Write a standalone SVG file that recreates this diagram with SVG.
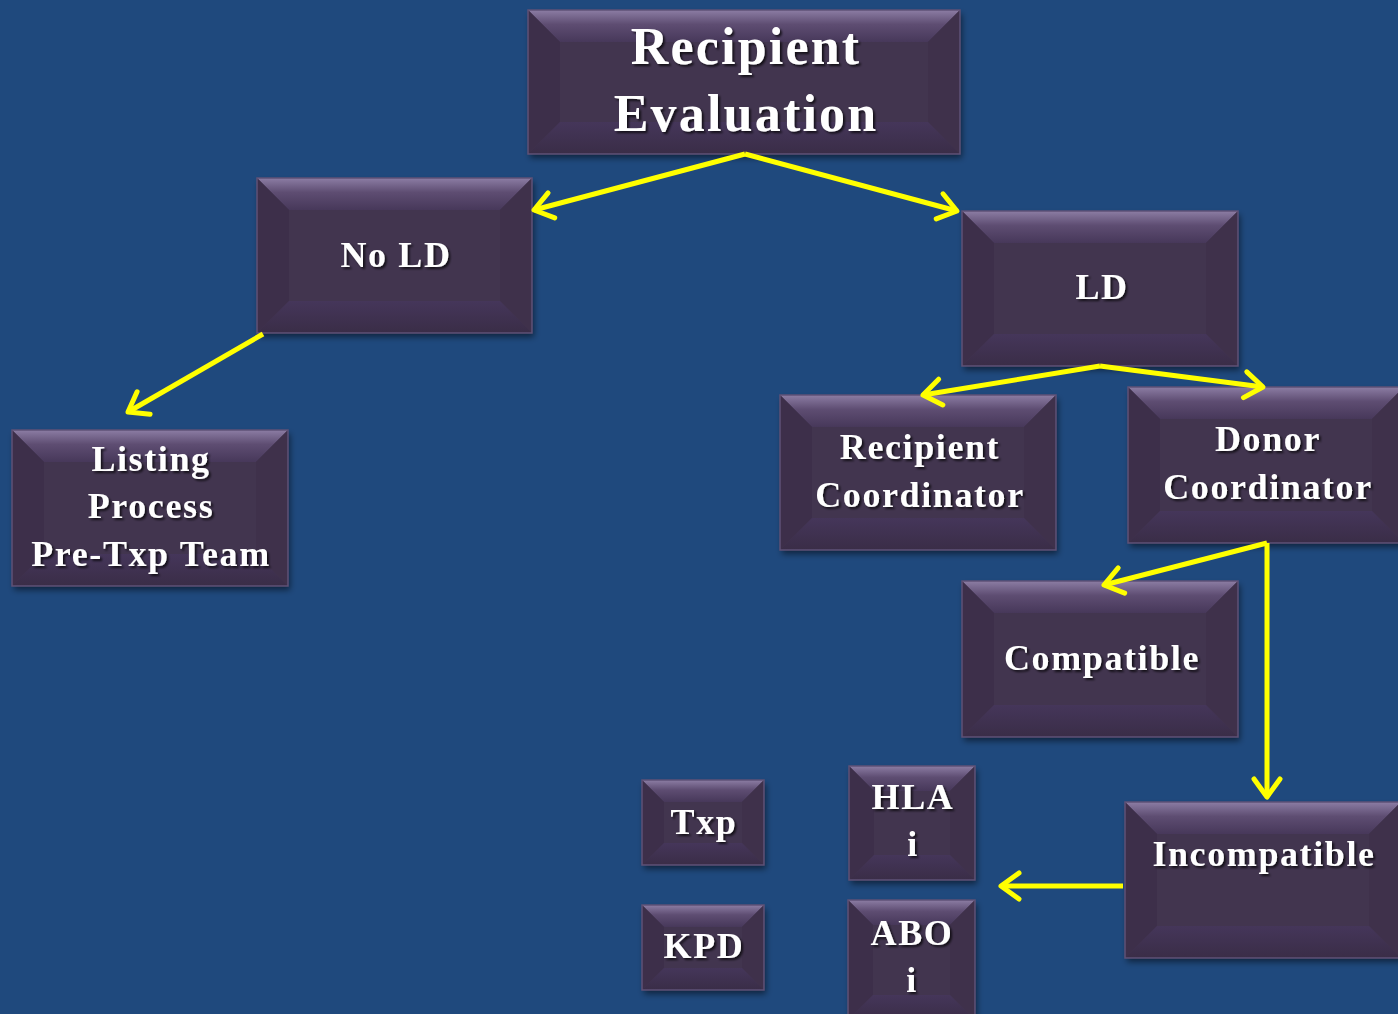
<svg xmlns="http://www.w3.org/2000/svg" width="1398" height="1014" viewBox="0 0 1398 1014">
<defs>
<linearGradient id="gt" x1="0" y1="0" x2="0" y2="1">
<stop offset="0" stop-color="#8C7DA4"/>
<stop offset="0.45" stop-color="#5E4D72"/>
<stop offset="1" stop-color="#47385A"/>
</linearGradient>
<linearGradient id="gb" x1="0" y1="0" x2="0" y2="1">
<stop offset="0" stop-color="#45365A"/>
<stop offset="1" stop-color="#3A2D47"/>
</linearGradient>
<filter id="sh" x="-10%" y="-10%" width="125%" height="130%">
<feDropShadow dx="2" dy="4" stdDeviation="3" flood-color="#000" flood-opacity="0.5"/>
</filter>
<filter id="ts" x="-10%" y="-20%" width="130%" height="150%">
<feDropShadow dx="2" dy="2" stdDeviation="1.2" flood-color="#000" flood-opacity="0.7"/>
</filter>
<marker id="ah" viewBox="-24 -16 28 32" refX="0" refY="0" markerWidth="28" markerHeight="32" markerUnits="userSpaceOnUse" orient="auto" overflow="visible">
<path d="M -18 -13 L 0 0 L -18 13" fill="none" stroke="#FFFF00" stroke-width="5" stroke-linecap="round" stroke-linejoin="round"/>
</marker>
</defs>
<style>
.face{fill:#43344F}
.bt{fill:url(#gt)}
.bl{fill:#3D2F4A}
.br{fill:#3F314B}
.bb{fill:url(#gb)}
.edge{fill:none;stroke:#5F5277;stroke-width:1.5}
.lbl{font-family:"Liberation Serif","Times New Roman",serif;font-weight:bold;fill:#FFFFFF;text-anchor:middle;filter:url(#ts)}
.f36{font-size:36px;letter-spacing:1.6px}
.f52{font-size:52px;letter-spacing:2.2px}
.conn{fill:none;stroke:#FFFF00;stroke-width:5;marker-end:url(#ah)}
</style>
<rect width="1398" height="1014" fill="#1F497D"/>

<g id="recipient-evaluation">
<g filter="url(#sh)"><rect class="face" x="528" y="10" width="432" height="144"/></g>
<polygon class="bt" points="528,10 960,10 928,42 560,42"/>
<polygon class="bl" points="528,10 560,42 560,122 528,154"/>
<polygon class="br" points="960,10 960,154 928,122 928,42"/>
<polygon class="bb" points="528,154 560,122 928,122 960,154"/>
<rect class="edge" x="528" y="10" width="432" height="144"/>
<text class="lbl f52" x="746" y="64">Recipient</text>
<text class="lbl f52" x="746" y="131">Evaluation</text>
</g>

<g id="no-ld">
<g filter="url(#sh)"><rect class="face" x="257" y="178" width="275" height="155"/></g>
<polygon class="bt" points="257,178 532,178 500,210 289,210"/>
<polygon class="bl" points="257,178 289,210 289,301 257,333"/>
<polygon class="br" points="532,178 532,333 500,301 500,210"/>
<polygon class="bb" points="257,333 289,301 500,301 532,333"/>
<rect class="edge" x="257" y="178" width="275" height="155"/>
<text class="lbl f36" x="396" y="267">No LD</text>
</g>

<g id="ld">
<g filter="url(#sh)"><rect class="face" x="962" y="211" width="276" height="155"/></g>
<polygon class="bt" points="962,211 1238,211 1206,243 994,243"/>
<polygon class="bl" points="962,211 994,243 994,334 962,366"/>
<polygon class="br" points="1238,211 1238,366 1206,334 1206,243"/>
<polygon class="bb" points="962,366 994,334 1206,334 1238,366"/>
<rect class="edge" x="962" y="211" width="276" height="155"/>
<text class="lbl f36" x="1102" y="299">LD</text>
</g>

<g id="listing-process">
<g filter="url(#sh)"><rect class="face" x="12" y="430" width="276" height="156"/></g>
<polygon class="bt" points="12,430 288,430 256,462 44,462"/>
<polygon class="bl" points="12,430 44,462 44,554 12,586"/>
<polygon class="br" points="288,430 288,586 256,554 256,462"/>
<polygon class="bb" points="12,586 44,554 256,554 288,586"/>
<rect class="edge" x="12" y="430" width="276" height="156"/>
<text class="lbl f36" x="151" y="471">Listing</text>
<text class="lbl f36" x="151" y="518">Process</text>
<text class="lbl f36" x="151" y="566">Pre-Txp Team</text>
</g>

<g id="recipient-coordinator">
<g filter="url(#sh)"><rect class="face" x="780" y="395" width="276" height="155"/></g>
<polygon class="bt" points="780,395 1056,395 1024,427 812,427"/>
<polygon class="bl" points="780,395 812,427 812,518 780,550"/>
<polygon class="br" points="1056,395 1056,550 1024,518 1024,427"/>
<polygon class="bb" points="780,550 812,518 1024,518 1056,550"/>
<rect class="edge" x="780" y="395" width="276" height="155"/>
<text class="lbl f36" x="920" y="459">Recipient</text>
<text class="lbl f36" x="920" y="507">Coordinator</text>
</g>

<g id="donor-coordinator">
<g filter="url(#sh)"><rect class="face" x="1128" y="387" width="276" height="156"/></g>
<polygon class="bt" points="1128,387 1404,387 1372,419 1160,419"/>
<polygon class="bl" points="1128,387 1160,419 1160,511 1128,543"/>
<polygon class="br" points="1404,387 1404,543 1372,511 1372,419"/>
<polygon class="bb" points="1128,543 1160,511 1372,511 1404,543"/>
<rect class="edge" x="1128" y="387" width="276" height="156"/>
<text class="lbl f36" x="1268" y="451">Donor</text>
<text class="lbl f36" x="1268" y="499">Coordinator</text>
</g>

<g id="compatible">
<g filter="url(#sh)"><rect class="face" x="962" y="581" width="276" height="156"/></g>
<polygon class="bt" points="962,581 1238,581 1206,613 994,613"/>
<polygon class="bl" points="962,581 994,613 994,705 962,737"/>
<polygon class="br" points="1238,581 1238,737 1206,705 1206,613"/>
<polygon class="bb" points="962,737 994,705 1206,705 1238,737"/>
<rect class="edge" x="962" y="581" width="276" height="156"/>
<text class="lbl f36" x="1102" y="670">Compatible</text>
</g>

<g id="txp">
<g filter="url(#sh)"><rect class="face" x="642" y="780" width="122" height="85"/></g>
<polygon class="bt" points="642,780 764,780 742,802 664,802"/>
<polygon class="bl" points="642,780 664,802 664,843 642,865"/>
<polygon class="br" points="764,780 764,865 742,843 742,802"/>
<polygon class="bb" points="642,865 664,843 742,843 764,865"/>
<rect class="edge" x="642" y="780" width="122" height="85"/>
<text class="lbl f36" x="704" y="834">Txp</text>
</g>

<g id="kpd">
<g filter="url(#sh)"><rect class="face" x="642" y="905" width="122" height="85"/></g>
<polygon class="bt" points="642,905 764,905 742,927 664,927"/>
<polygon class="bl" points="642,905 664,927 664,968 642,990"/>
<polygon class="br" points="764,905 764,990 742,968 742,927"/>
<polygon class="bb" points="642,990 664,968 742,968 764,990"/>
<rect class="edge" x="642" y="905" width="122" height="85"/>
<text class="lbl f36" x="704" y="958">KPD</text>
</g>

<g id="hla-i">
<g filter="url(#sh)"><rect class="face" x="849" y="766" width="126" height="114"/></g>
<polygon class="bt" points="849,766 975,766 950,791 874,791"/>
<polygon class="bl" points="849,766 874,791 874,855 849,880"/>
<polygon class="br" points="975,766 975,880 950,855 950,791"/>
<polygon class="bb" points="849,880 874,855 950,855 975,880"/>
<rect class="edge" x="849" y="766" width="126" height="114"/>
<text class="lbl f36" x="913" y="809">HLA</text>
<text class="lbl f36" x="913" y="856">i</text>
</g>

<g id="abo-i">
<g filter="url(#sh)"><rect class="face" x="848" y="900" width="127" height="120"/></g>
<polygon class="bt" points="848,900 975,900 950,925 873,925"/>
<polygon class="bl" points="848,900 873,925 873,995 848,1020"/>
<polygon class="br" points="975,900 975,1020 950,995 950,925"/>
<polygon class="bb" points="848,1020 873,995 950,995 975,1020"/>
<rect class="edge" x="848" y="900" width="127" height="120"/>
<text class="lbl f36" x="912" y="945">ABO</text>
<text class="lbl f36" x="912" y="992">i</text>
</g>

<g id="incompatible">
<g filter="url(#sh)"><rect class="face" x="1125" y="802" width="276" height="156"/></g>
<polygon class="bt" points="1125,802 1401,802 1369,834 1157,834"/>
<polygon class="bl" points="1125,802 1157,834 1157,926 1125,958"/>
<polygon class="br" points="1401,802 1401,958 1369,926 1369,834"/>
<polygon class="bb" points="1125,958 1157,926 1369,926 1401,958"/>
<rect class="edge" x="1125" y="802" width="276" height="156"/>
<text class="lbl f36" x="1264" y="866">Incompatible</text>
</g>

<g id="connectors">
<path class="conn" d="M745,154 L534,210"/>
<path class="conn" d="M745,154 L957,211"/>
<path class="conn" d="M263,334 L128,412"/>
<path class="conn" d="M1100,366 L923,395"/>
<path class="conn" d="M1100,366 L1263,387"/>
<path class="conn" d="M1267,543 L1104,585"/>
<path class="conn" d="M1267,543 L1267,797"/>
<path class="conn" d="M1123,886 L1001,886"/>
</g>
</svg>
